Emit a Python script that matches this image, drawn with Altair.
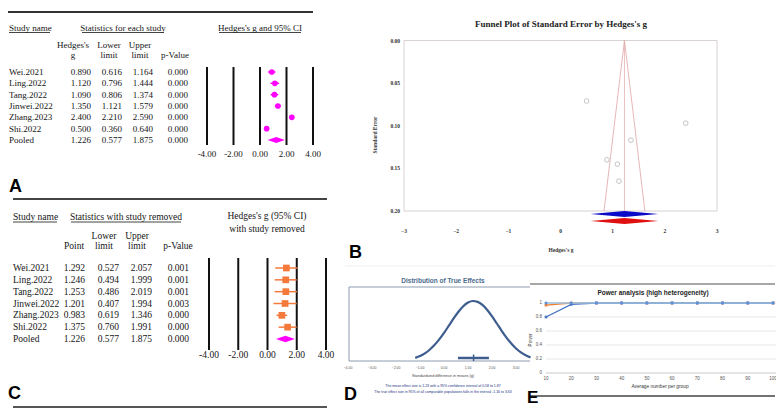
import altair as alt
import pandas as pd

# ---------------- data ----------------
studies = ["Wei.2021", "Ling.2022", "Tang.2022", "Jinwei.2022", "Zhang.2023", "Shi.2022", "Pooled"]
hedges_g = [0.890, 1.120, 1.090, 1.350, 2.400, 0.500, 1.226]
lower = [0.616, 0.796, 0.806, 1.121, 2.210, 0.360, 0.577]
upper = [1.164, 1.444, 1.374, 1.579, 2.590, 0.640, 1.875]
p_a = ["0.000", "0.000", "0.000", "0.000", "0.000", "0.000", "0.000"]

loo_point = [1.292, 1.246, 1.253, 1.201, 0.983, 1.375, 1.226]
loo_lower = [0.527, 0.494, 0.486, 0.407, 0.619, 0.760, 0.577]
loo_upper = [2.057, 1.999, 2.019, 1.994, 1.346, 1.991, 1.875]
loo_p = ["0.001", "0.001", "0.001", "0.003", "0.000", "0.000", "0.000"]

forest_ticks = [-4, -2, 0, 2, 4]
forest_tick_labels = ["-4.00", "-2.00", "0.00", "2.00", "4.00"]

std_err = [0.140, 0.165, 0.145, 0.117, 0.097, 0.071]
funnel_x = [0.834, 1.226, 1.618]
funnel_y = [0.20, 0.00, 0.20]
funnel_xticks = [-3, -2, -1, 0, 1, 2, 3]
funnel_yticks = [0.00, 0.05, 0.10, 0.15, 0.20]

true_x = [-1.2, -1.0, -0.8, -0.6, -0.4, -0.2, 0.0, 0.2, 0.4, 0.6, 0.8, 1.0, 1.2,
          1.4, 1.6, 1.8, 2.0, 2.2, 2.4, 2.6, 2.8, 3.0, 3.2, 3.4, 3.6]
true_y = [0.052, 0.083, 0.127, 0.188, 0.265, 0.360, 0.469, 0.588, 0.709, 0.820, 0.912, 0.974, 1.000,
          0.986, 0.934, 0.850, 0.744, 0.625, 0.504, 0.391, 0.292, 0.209, 0.144, 0.095, 0.060]
true_mean = 1.23
true_ci = [0.58, 1.87]
d_ticks = [-4, -3, -2, -1, 0, 1, 2, 3]

n_group = [10, 20, 30, 40, 50, 60, 70, 80, 90, 100]
power_blue = [0.80, 0.98, 1.0, 1.0, 1.0, 1.0, 1.0, 1.0, 1.0, 1.0]
power_orange = [0.97, 1.0, 1.0, 1.0, 1.0, 1.0, 1.0, 1.0, 1.0, 1.0]
power_light = [1.0, 1.0, 1.0, 1.0, 1.0, 1.0, 1.0, 1.0, 1.0, 1.0]
power_yticks = [0, 0.2, 0.4, 0.6, 0.8, 1.0]

# ---------------- helpers ----------------
O = 8
SERIF = "Liberation Serif"
SANS = "Liberation Sans"
INK = "#151515"
MAG = "#ff00ff"
ORANGE = "#f47a3c"
layers = []
one = pd.DataFrame({"k": [0]})


def P(v):
    return v - O


def sc(dom, r0, r1):
    return alt.Scale(domain=dom, range=[P(r0), P(r1)], nice=False, zero=False)


def text(txt, x, y, size, font=SERIF, weight="normal", align="center", color=INK, angle=0):
    layers.append(
        alt.Chart(one).mark_text(text=txt, fontSize=size, font=font, fontWeight=weight,
                                 align=align, baseline="middle", color=color, angle=angle)
        .encode(x=alt.value(P(x)), y=alt.value(P(y)))
    )


def hline(x1, x2, y, color, w):
    layers.append(alt.Chart(one).mark_rule(color=color, strokeWidth=w)
                  .encode(x=alt.value(P(x1)), x2=alt.value(P(x2)), y=alt.value(P(y))))


def vline(x, y1, y2, color, w):
    layers.append(alt.Chart(one).mark_rule(color=color, strokeWidth=w)
                  .encode(x=alt.value(P(x)), y=alt.value(P(y1)), y2=alt.value(P(y2))))


def forest_panel(names, pts, los, his, ps, rows, fx, name_x, cols, size, marker, ytop, ybot, ylab):
    df = pd.DataFrame({"study": names, "row": list(range(len(names))), "pt": pts,
                       "lo": los, "hi": his, "p": ps})
    Y = alt.Y("row:Q", scale=rows, axis=None)
    layers.append(alt.Chart(df).mark_text(align="left", baseline="middle", font=SERIF, fontSize=size, color=INK)
                  .encode(x=alt.value(P(name_x)), y=Y, text="study:N"))
    for field, xr in zip(["pt", "lo", "hi"], cols[:3]):
        layers.append(alt.Chart(df).mark_text(align="right", baseline="middle", font=SERIF, fontSize=size, color=INK)
                      .encode(x=alt.value(P(xr)), y=Y, text=alt.Text(field + ":Q", format=".3f")))
    layers.append(alt.Chart(df).mark_text(align="right", baseline="middle", font=SERIF, fontSize=size, color=INK)
                  .encode(x=alt.value(P(cols[3])), y=Y, text="p:N"))
    tdf = pd.DataFrame({"v": forest_ticks, "lab": forest_tick_labels})
    X = alt.X("v:Q", scale=fx, axis=None)
    layers.append(alt.Chart(tdf).mark_rule(color="#111111", strokeWidth=2)
                  .encode(x=X, y=alt.value(P(ytop)), y2=alt.value(P(ybot))))
    layers.append(alt.Chart(tdf).mark_text(font=SERIF, fontSize=size, color=INK, baseline="middle")
                  .encode(x=X, y=alt.value(P(ylab)), text="lab:N"))
    dfs = df.iloc[:6]
    color = MAG if marker == "circle" else ORANGE
    layers.append(alt.Chart(dfs).mark_rule(color=color, strokeWidth=1.5)
                  .encode(x=alt.X("lo:Q", scale=fx, axis=None), x2="hi:Q", y=Y))
    if marker == "circle":
        layers.append(alt.Chart(dfs).mark_circle(color=MAG, size=32, opacity=1)
                      .encode(x=alt.X("pt:Q", scale=fx, axis=None), y=Y))
    else:
        layers.append(alt.Chart(dfs).mark_square(color=ORANGE, size=45, opacity=1)
                      .encode(x=alt.X("pt:Q", scale=fx, axis=None), y=Y))
    r = len(names) - 1
    dia = pd.DataFrame({"x": [los[r], pts[r], his[r]], "y": [r, r - 0.27, r], "y2": [r, r + 0.27, r]})
    layers.append(alt.Chart(dia).mark_area(color=MAG, opacity=1)
                  .encode(x=alt.X("x:Q", scale=fx, axis=None), y=alt.Y("y:Q", scale=rows, axis=None), y2="y2:Q"))


# ---------------- panel A ----------------
hline(8, 313, 12, "#333333", 2)
text("Study name", 9, 28, 9, align="left")
hline(9, 50, 32.5, INK, 0.8)
text("Statistics for each study", 123, 28, 9)
hline(82, 164, 32.5, INK, 0.8)
text("Hedges's g and 95% CI", 260, 28, 9)
hline(219, 301, 32.5, INK, 0.8)
text("Hedges's", 73, 45, 9)
text("g", 73, 55, 9)
text("Lower", 109, 45, 9)
text("limit", 109, 55, 9)
text("Upper", 140, 45, 9)
text("limit", 140, 55, 9)
text("p-Value", 175, 55, 9)
forest_panel(studies, hedges_g, lower, upper, p_a, sc([0, 6], 72, 140), sc([-4, 4], 207, 313),
             9, [91, 122, 153, 188], 9, "circle", 67, 145, 154)
text("A", 9, 187, 18, font=SANS, weight="bold", align="left", color="#000000")
hline(13, 327, 199, "#444444", 2)

# ---------------- panel C ----------------
text("Study name", 13, 217, 9.5, align="left")
hline(13, 57, 222, INK, 0.8)
text("Statistics with study removed", 126, 217, 9.5)
hline(71, 181, 222, INK, 0.8)
text("Hedges's g (95% CI)", 267, 216, 9.5)
text("with study removed", 267, 229, 9.5)
text("Lower", 104, 236, 9.5)
text("Upper", 137, 236, 9.5)
text("Point", 74, 246, 9.5)
text("limit", 104, 246, 9.5)
text("limit", 137, 246, 9.5)
text("p-Value", 178, 246, 9.5)
forest_panel(studies, loo_point, loo_lower, loo_upper, loo_p, sc([0, 6], 268, 339), sc([-4, 4], 209, 326),
             13, [85, 119, 152, 189], 9.5, "square", 258, 350, 355)
text("C", 8, 394, 18, font=SANS, weight="bold", align="left", color="#000000")
hline(13, 327, 407, "#555555", 2)

# ---------------- panel B (funnel) ----------------
hline(380, 775, 5, "#eeeeee", 1)
fxB = sc([-3, 3], 404, 717)
fyB = sc([0, 0.2], 40.5, 211)
XB = lambda f: alt.X(f, scale=fxB, axis=None)
YB = lambda f: alt.Y(f, scale=fyB, axis=None)
frame = pd.DataFrame({"x": [funnel_xticks[0]], "x2": [funnel_xticks[-1]],
                      "y": [funnel_yticks[0]], "y2": [funnel_yticks[-1]]})
layers.append(alt.Chart(frame).mark_rect(fillOpacity=0, stroke="#d9d2d2", strokeWidth=1)
              .encode(x=XB("x:Q"), x2="x2:Q", y=YB("y:Q"), y2="y2:Q"))
layers.append(alt.Chart(pd.DataFrame({"x": funnel_x, "y": funnel_y})).mark_line(color="#e2a3a3", strokeWidth=0.8)
              .encode(x=XB("x:Q"), y=YB("y:Q")))
layers.append(alt.Chart(pd.DataFrame({"x": [hedges_g[6]], "y": [0.0], "y2": [0.2]}))
              .mark_rule(color="#e2b0b0", strokeWidth=0.8).encode(x=XB("x:Q"), y=YB("y:Q"), y2="y2:Q"))
layers.append(alt.Chart(pd.DataFrame({"g": hedges_g[:6], "se": std_err}))
              .mark_point(shape="circle", filled=False, color="#bdbdbd", size=22, strokeWidth=0.9, opacity=1)
              .encode(x=XB("g:Q"), y=YB("se:Q")))
for c, col in [(0.2035, "#0a0ac8"), (0.2117, "#e01010")]:
    dia = pd.DataFrame({"x": [lower[6], hedges_g[6], upper[6]], "y": [c, c - 0.0035, c], "y2": [c, c + 0.0035, c]})
    layers.append(alt.Chart(dia).mark_area(color=col, opacity=1).encode(x=XB("x:Q"), y=YB("y:Q"), y2="y2:Q"))
layers.append(alt.Chart(pd.DataFrame({"v": funnel_xticks}))
              .mark_text(font=SERIF, fontSize=5.5, fontWeight="bold", color="#333333", baseline="middle")
              .encode(x=XB("v:Q"), y=alt.value(P(231)), text=alt.Text("v:Q", format="d")))
layers.append(alt.Chart(pd.DataFrame({"v": funnel_yticks}))
              .mark_text(font=SERIF, fontSize=5.5, fontWeight="bold", color="#333333", baseline="middle", align="right")
              .encode(y=YB("v:Q"), x=alt.value(P(400)), text=alt.Text("v:Q", format=".2f")))
text("Funnel Plot of Standard Error by Hedges's g", 561, 24, 9, weight="bold", color="#222222")
text("Hedges's g", 561, 250, 5.5, weight="bold", color="#333333")
text("Standard Error", 375, 135, 5.5, weight="bold", color="#333333", angle=270)
text("B", 349, 253, 18, font=SANS, weight="bold", align="left", color="#000000")

# ---------------- panel D ----------------
hline(345, 775, 266, "#eeeeee", 1)
fxD = sc([-4, 3.58], 348, 530)
fyD = sc([0, 1], 361, 301)
hline(349, 530, 287, "#8c9bb0", 1)
hline(349, 530, 361, "#8c9bb0", 1)
vline(349, 287, 361, "#8c9bb0", 1)
layers.append(alt.Chart(pd.DataFrame({"x": true_x, "y": true_y}))
              .mark_line(color="#3d5d8e", strokeWidth=2.2, interpolate="monotone")
              .encode(x=alt.X("x:Q", scale=fxD, axis=None), y=alt.Y("y:Q", scale=fyD, axis=None)))
layers.append(alt.Chart(pd.DataFrame({"a": [true_ci[0]], "b": [true_ci[1]]}))
              .mark_rule(color="#3d5d8e", strokeWidth=2.5)
              .encode(x=alt.X("a:Q", scale=fxD, axis=None), x2="b:Q", y=alt.value(P(358))))
layers.append(alt.Chart(pd.DataFrame({"m": [true_mean]}))
              .mark_rule(color="#3d5d8e", strokeWidth=1.5)
              .encode(x=alt.X("m:Q", scale=fxD, axis=None), y=alt.value(P(354.5)), y2=alt.value(P(361))))
layers.append(alt.Chart(pd.DataFrame({"v": d_ticks}))
              .mark_text(font=SANS, fontSize=3.5, color="#555555", baseline="middle")
              .encode(x=alt.X("v:Q", scale=fxD, axis=None), y=alt.value(P(368)), text=alt.Text("v:Q", format=".2f")))
text("Distribution of True Effects", 443, 281, 6.5, font=SANS, weight="bold", color="#4a6b8c")
text("Standardized difference in means (g)", 443, 376, 3.8, font=SANS, color="#444444")
text("The mean effect size is 1.23 with a 95% confidence interval of 0.58 to 1.87", 443, 386, 3.5,
     font=SANS, color="#1a2f80")
text("The true effect size in 95% of all comparable populations falls in the interval -1.16 to 3.63", 443, 392, 3.5,
     font=SANS, color="#1a2f80")
text("D", 344, 395, 18, font=SANS, weight="bold", align="left", color="#000000")

# ---------------- panel E ----------------
hline(530, 775, 284, "#8a8a8a", 1.5)
fxE = sc([10, 100], 546, 773)
fyE = sc([0, 1], 373, 303)
XE = lambda f: alt.X(f, scale=fxE, axis=None)
YE = lambda f: alt.Y(f, scale=fyE, axis=None)
layers.append(alt.Chart(pd.DataFrame({"v": power_yticks[1:]})).mark_rule(color="#dcdcdc", strokeWidth=0.7)
              .encode(y=YE("v:Q"), x=alt.value(P(546)), x2=alt.value(P(776))))
layers.append(alt.Chart(pd.DataFrame({"v": power_yticks[:1]})).mark_rule(color="#bcbcbc", strokeWidth=0.8)
              .encode(y=YE("v:Q"), x=alt.value(P(546)), x2=alt.value(P(776))))
layers.append(alt.Chart(pd.DataFrame({"v": power_yticks}))
              .mark_text(font=SANS, fontSize=4.5, color="#555555", align="right", baseline="middle")
              .encode(y=YE("v:Q"), x=alt.value(P(542)), text=alt.Text("v:Q", format="~g")))
layers.append(alt.Chart(pd.DataFrame({"v": n_group}))
              .mark_text(font=SANS, fontSize=4.5, color="#555555", baseline="middle")
              .encode(x=XE("v:Q"), y=alt.value(P(379)), text=alt.Text("v:Q", format="d")))
for vals, col, mcol in [(power_orange, "#ed7d31", "#ed7d31"), (power_blue, "#4472c4", "#4472c4"),
                        (power_light, "#9dc3e6", "#5b8fd6")]:
    d = pd.DataFrame({"n": n_group, "p": vals})
    layers.append(alt.Chart(d).mark_line(color=col, strokeWidth=1.3).encode(x=XE("n:Q"), y=YE("p:Q")))
    layers.append(alt.Chart(d).mark_square(color=mcol, size=7, opacity=1).encode(x=XE("n:Q"), y=YE("p:Q")))
text("Power analysis (high heterogeneity)", 653, 293, 6.5, font=SANS, weight="bold", color="#222222")
text("Average number per group", 660, 387, 4.8, font=SANS, color="#333333")
text("Power", 531, 340, 4.5, font=SANS, color="#333333", angle=270)
hline(530, 775, 396, "#444444", 1.5)
text("E", 527, 398, 17, font=SANS, weight="bold", align="left", color="#000000")

chart = (
    alt.layer(*layers)
    .properties(width=768, height=400, autosize=alt.AutoSizeParams(type="none"), padding=0, background="white")
    .resolve_scale(x="independent", y="independent")
    .configure_view(stroke=None)
)
chart.save("out.html", embed_options={"renderer": "svg", "actions": False})
